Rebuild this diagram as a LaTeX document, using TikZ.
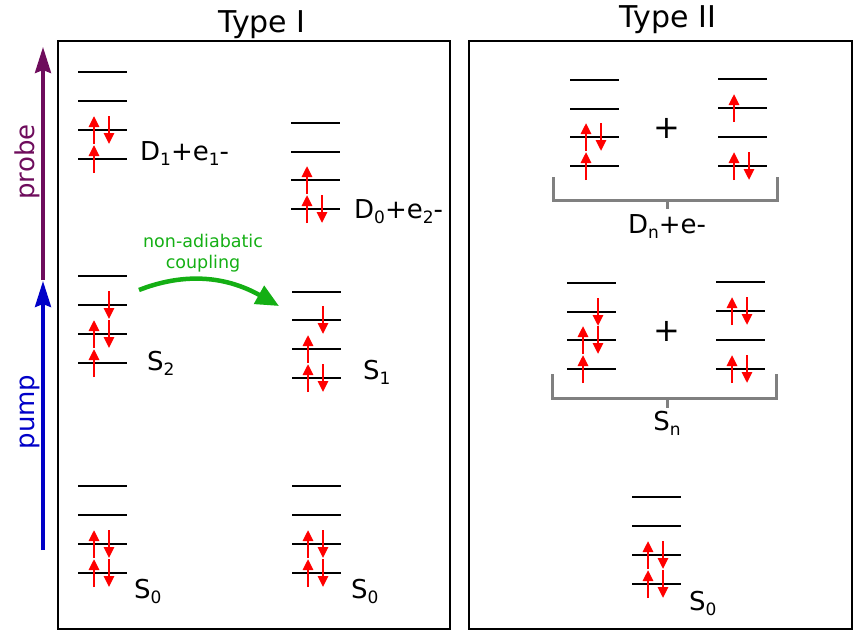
\documentclass[tikz,border=0pt]{standalone}
\usepackage{fontspec}
\setmainfont{DejaVu Sans}
\usetikzlibrary{arrows.meta}
\definecolor{probecol}{RGB}{110,12,92}
\definecolor{pumpcol}{RGB}{0,0,200}
\definecolor{naccol}{RGB}{20,175,20}
\definecolor{brackcol}{RGB}{128,128,128}
\tikzset{
  enlevel/.style={line width=2.6pt, black},
  spin/.style={red, line width=2.6pt, -{Triangle[width=10pt,length=11pt]}},
  frame/.style={line width=2.6pt, black},
  bracketline/.style={line width=3pt, brackcol},
  lab/.style={inner sep=0pt, font=\fontsize{26}{31}\selectfont},
  title/.style={inner sep=0pt, font=\fontsize{30}{36}\selectfont},
  plus/.style={inner sep=0pt, font=\fontsize{32}{38}\selectfont},
  beam/.style={line width=3.5pt, -{Stealth[width=16pt,length=26pt,inset=3pt]}},
}
\newcommand\mysub[1]{\raisebox{-0.22em}{\fontsize{17}{20}\selectfont #1}}
\newcommand\elev[2]{\draw[enlevel] (#1,#2) -- ++(49,0);}
\newcommand\elevs[2]{\foreach \yy in {#2} {\elev{#1}{\yy}}}
\newcommand\eup[2]{\draw[spin] ({#1+16},{#2+14}) -- ({#1+16},{#2-14});}
\newcommand\edn[2]{\draw[spin] ({#1+31},{#2-14}) -- ({#1+31},{#2+14});}
\begin{document}
\begin{tikzpicture}[x=1pt,y=-1pt]
\useasboundingbox (0,0) rectangle (854,632);
% frames
\draw[frame] (58,41) rectangle (450,629);
\draw[frame] (469,41) rectangle (852,629);
% titles
\node[title, anchor=base] (tI) at (262,32) {Type I};
\node[title, anchor=base] (tII) at (668,27) {Type II};
% pump / probe
\coordinate (pumpA) at (43,550);
\coordinate (pumpB) at (43,281);
\coordinate (probeA) at (43,280);
\coordinate (probeB) at (43,47);
\draw[beam, pumpcol] (pumpA) -- (pumpB);
\draw[beam, probecol] (probeA) -- (probeB);
\node[lab, rotate=90, anchor=base, text=probecol] (lprobe) at (34,162) {probe};
\node[lab, rotate=90, anchor=base, text=pumpcol] (lpump) at (34,412) {pump};
% ---- Type I, column 1
\elevs{78}{72,101,130,159}
\eup{78}{130}\edn{78}{130}\eup{78}{159}
\elevs{78}{276,305,334,363}
\edn{78}{305}\eup{78}{334}\edn{78}{334}\eup{78}{363}
\elevs{78}{486,515,544,573}
\eup{78}{544}\edn{78}{544}\eup{78}{573}\edn{78}{573}
% ---- Type I, column 2
\elevs{291}{123,152,180,209}
\eup{291}{180}\eup{291}{209}\edn{291}{209}
\elevs{292}{292,320,349,378}
\edn{292}{320}\eup{292}{349}\eup{292}{378}\edn{292}{378}
\elevs{292}{486,515,544,573}
\eup{292}{544}\edn{292}{544}\eup{292}{573}\edn{292}{573}
% labels Type I
\node[lab, anchor=base west] (lD1) at (140,160) {D\mysub{1}+e\mysub{1}-};
\node[lab, anchor=base west] (lD0) at (354,218) {D\mysub{0}+e\mysub{2}-};
\node[lab, anchor=base west] (lS2) at (147,370) {S\mysub{2}};
\node[lab, anchor=base west] (lS1) at (363,379) {S\mysub{1}};
\node[lab, anchor=base west] (lS0a) at (134,598) {S\mysub{0}};
\node[lab, anchor=base west] (lS0b) at (351,598) {S\mysub{0}};
% non-adiabatic coupling
\coordinate (nacA) at (139,290);
\coordinate (nacB) at (279,306);
\draw[naccol, line width=4.5pt, -{Triangle[width=20pt,length=23pt]}]
  (nacA) .. controls (180,274) and (222,274) .. (nacB);
\node[inner sep=0pt, anchor=base, text=naccol, font=\fontsize{17.5}{21}\selectfont] (lnac1) at (203,247) {non-adiabatic};
\node[inner sep=0pt, anchor=base, text=naccol, font=\fontsize{17.5}{21}\selectfont] (lnac2) at (203,268) {coupling};
% ---- Type II: D_n + e-
\elevs{570}{80,109,137,166}
\eup{570}{137}\edn{570}{137}\eup{570}{166}
\elevs{718}{79,108,137,166}
\eup{718}{108}\eup{718}{166}\edn{718}{166}
\node[plus] (p1) at (667,128) {+};
\draw[bracketline] (553,177) -- (553,200) -- (777,200) -- (777,177);
\draw[bracketline] (667,200) -- (667,209);
\node[lab, anchor=base] (lDn) at (667,233) {D\mysub{n}+e-};
% ---- Type II: S_n
\elevs{567}{283,312,340,369}
\edn{567}{312}\eup{567}{340}\edn{567}{340}\eup{567}{369}
\elevs{716}{282,311,340,369}
\eup{716}{311}\edn{716}{311}\eup{716}{369}\edn{716}{369}
\node[plus] (p2) at (667,331) {+};
\draw[bracketline] (552,374) -- (552,398) -- (776,398) -- (776,374);
\draw[bracketline] (667,398) -- (667,408);
\node[lab, anchor=base] (lSn) at (667,430) {S\mysub{n}};
% ---- Type II: S0
\elevs{632}{497,526,555,584}
\eup{632}{555}\edn{632}{555}\eup{632}{584}\edn{632}{584}
\node[lab, anchor=base west] (lS0c) at (689,610) {S\mysub{0}};
\end{tikzpicture}
\end{document}
